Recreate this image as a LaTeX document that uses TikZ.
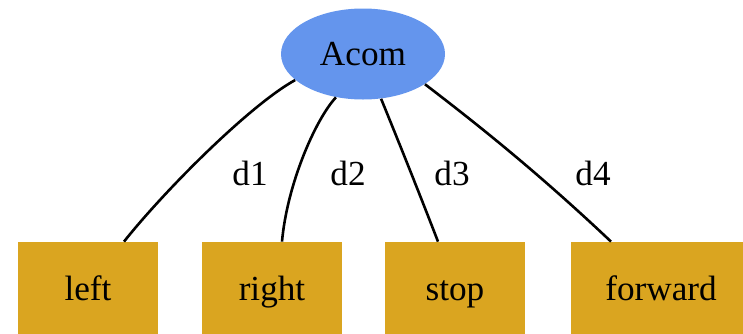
\documentclass[tikz,border=0pt]{standalone}
\usepackage{fontspec}
\setmainfont{Liberation Serif}
\usetikzlibrary{shapes.geometric}
\definecolor{acomblue}{HTML}{6495ED}
\definecolor{cmdgold}{HTML}{DAA520}

\begin{document}
\begin{tikzpicture}[x=0.5pt,y=-0.5pt,
  every node/.style={font=\fontsize{17.6}{20}\selectfont},
  agent/.style={ellipse,fill=acomblue,minimum width=82pt,minimum height=45.5pt,inner sep=0pt},
  cmd/.style={rectangle,fill=cmdgold,minimum height=48pt,inner sep=0pt,text height=12pt,text depth=2pt},
  link/.style={line width=1.3pt}]
  \useasboundingbox (0,0) rectangle (743,333);
  \clip (0,0) rectangle (743,333);
  \node[agent] (acom) at (363,54) {Acom};
  \node[cmd,minimum width=70pt] (left) at (88,290) {left};
  \node[cmd,minimum width=70pt] (right) at (272,290) {right};
  \node[cmd,minimum width=70pt] (stop) at (455,290) {stop};
  \node[cmd,minimum width=90pt] (forward) at (661,290) {forward};
  \node (d1) at (250,173) {d1};
  \node (d2) at (348,173) {d2};
  \node (d3) at (452,173) {d3};
  \node (d4) at (593,173) {d4};
  \draw[link] (acom.201) .. controls (250,105) and (165,190) .. ([xshift=18pt]left.north);
  \draw[link] (acom.238) .. controls (315,120) and (287,185) .. ([xshift=5pt]right.north);
  \draw[link] (acom.292) .. controls (400,145) and (420,195) .. ([xshift=-8.5pt]stop.north);
  \draw[link] (acom.334) .. controls (465,115) and (530,165) .. ([xshift=-25pt]forward.north);
\end{tikzpicture}
\end{document}
